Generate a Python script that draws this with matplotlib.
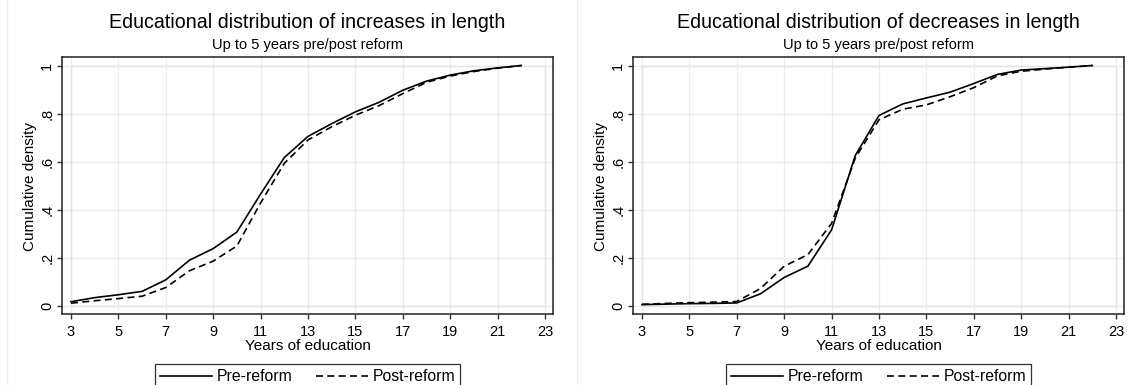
import matplotlib.pyplot as plt
from matplotlib.patches import Rectangle
from matplotlib.lines import Line2D

plt.rcParams['font.family'] = ['Liberation Sans', 'DejaVu Sans']

# years of education
years = list(range(3, 23))

# cumulative density, increases in length
inc_pre = [0.017, 0.034, 0.046, 0.060, 0.108, 0.190, 0.238, 0.307, 0.465, 0.617,
           0.705, 0.758, 0.807, 0.847, 0.897, 0.935, 0.960, 0.978, 0.990, 1.000]
inc_post = [0.011, 0.021, 0.030, 0.040, 0.076, 0.146, 0.186, 0.249, 0.428, 0.593,
            0.690, 0.745, 0.793, 0.833, 0.883, 0.930, 0.956, 0.975, 0.989, 1.000]

# cumulative density, decreases in length
dec_pre = [0.005, 0.007, 0.009, 0.010, 0.012, 0.050, 0.118, 0.165, 0.316, 0.626,
           0.792, 0.840, 0.865, 0.889, 0.925, 0.963, 0.981, 0.987, 0.993, 1.000]
dec_post = [0.006, 0.010, 0.013, 0.015, 0.018, 0.072, 0.165, 0.213, 0.343, 0.615,
            0.774, 0.818, 0.836, 0.870, 0.908, 0.957, 0.976, 0.985, 0.993, 1.000]

xticks = list(range(3, 24, 2))
yticks = [0, 0.2, 0.4, 0.6, 0.8, 1.0]
ylabels = ['0', '.2', '.4', '.6', '.8', '1']

W, H = 1129, 385
# outer frame of each panel in pixels: left, right, top, bottom
panels = [
    ("Educational distribution of increases in length", inc_pre, inc_post, (62, 553, 57, 314)),
    ("Educational distribution of decreases in length", dec_pre, dec_post, (633, 1124, 57, 314)),
]

# inner plot region sits 9 px inside the black frame (Stata style)
ppu_x = 474 / 20
ppu_y = 240.3
x_lo, x_hi = 3 - 9 / ppu_x, 23 + 8 / ppu_x
y_lo, y_hi = -8.2 / ppu_y, 1 + 8.5 / ppu_y

fig = plt.figure(figsize=(W / 100, H / 100), dpi=100)

# faint graph-region borders
for xb in (7, 577):
    fig.add_artist(Line2D([xb / W, xb / W], [0, 1], color='#efefef', lw=1))

for title, pre, post, (l, r, t, b) in panels:
    ax = fig.add_axes([l / W, (H - b) / H, (r - l) / W, (b - t) / H])
    ax.plot(years, pre, color='black', lw=1.2, label='Pre-reform', zorder=3)
    ax.plot(years, post, color='black', lw=1.2, ls=(0, (4.2, 2.6)), label='Post-reform',
            zorder=3)

    ax.set_xlim(x_lo, x_hi)
    ax.set_ylim(y_lo, y_hi)
    ax.set_xticks(xticks)
    ax.set_yticks(yticks)
    ax.set_yticklabels(ylabels, rotation=90, va='center', ha='center')
    ax.tick_params(axis='both', direction='out', length=3.6, width=1, labelsize=10.5,
                   color='#333333', labelcolor='black')
    ax.tick_params(axis='y', pad=7)
    ax.tick_params(axis='x', pad=4)

    ax.grid(True, color='#ececec', lw=1)
    ax.set_axisbelow(True)
    ax.add_patch(Rectangle((3, 0), 20, 1, fill=False, edgecolor='#e4e4e4', lw=1, zorder=1))
    for side in ax.spines:
        ax.spines[side].set_color('#222222')
        ax.spines[side].set_linewidth(1.1)

    cx = (l + r) / 2 / W
    fig.text(cx, (H - 22) / H, title, ha='center', va='center', fontsize=14.1)
    fig.text(cx, (H - 45) / H, "Up to 5 years pre/post reform", ha='center', va='center',
             fontsize=10.5)
    fig.text(30 / W - (62 - l) / W, (H - 186) / H, "Cumulative density", rotation=90,
             ha='center', va='center', fontsize=11)
    fig.text(cx, (H - 346) / H, "Years of education", ha='center', va='center', fontsize=11)

    leg = fig.legend(*ax.get_legend_handles_labels(), loc='upper center',
                     bbox_to_anchor=(cx, (H - 364) / H), ncol=2, frameon=True,
                     fancybox=False, edgecolor='black', fontsize=11.3,
                     handlelength=3.3, handletextpad=0.3, columnspacing=1.5,
                     borderpad=0.35, borderaxespad=0)
    leg.get_frame().set_linewidth(0.9)

fig.savefig('out.png', dpi=100)
